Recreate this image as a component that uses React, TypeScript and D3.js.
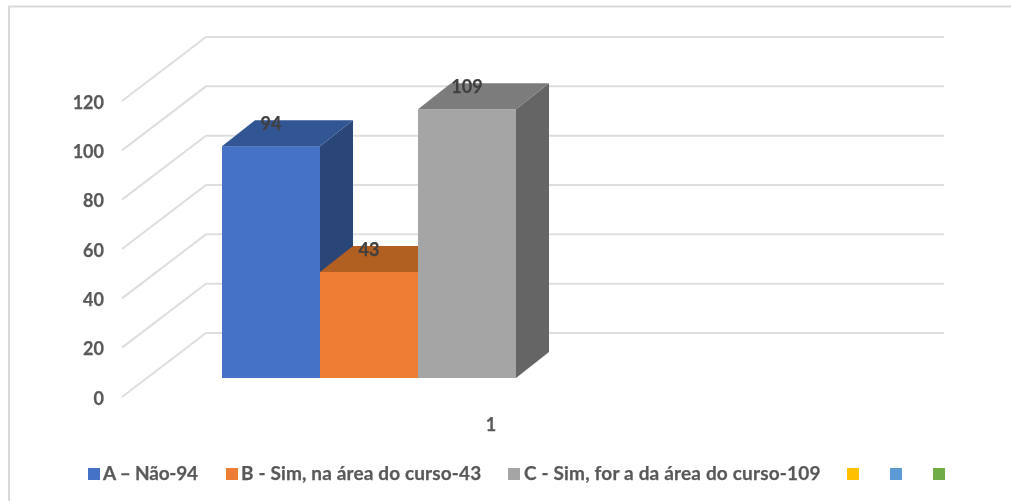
import React from "react";
import * as d3 from "d3";

const yTicks = [0, 20, 40, 60, 80, 100, 120];
const categoryLabel = "1";
const seriesNames = ["A – Não-94", "B - Sim, na área do curso-43", "C - Sim, for a da área do curso-109"];
const seriesValues = [94, 43, 109];
const seriesFront = ["#4472C4", "#ED7D31", "#A5A5A5"];
const seriesTop = ["#335593", "#B25E24", "#7C7C7C"];
const seriesSide = ["#294578", "#914C1D", "#656565"];
const emptyLegendColors = ["#FFC000", "#5B9BD5", "#70AD47"];
const legendX = [88, 226, 508];
const legendTextX = [103, 241, 524];
const legendSpacing = [-0.2, 0.14, 0.17];
const emptyLegendX = [847, 890, 933];

const FONT = "Lato, 'Open Sans', sans-serif";
const W = 1011, H = 501;
const wallDx = 84, wallDy = -64;
const depthDx = 33, depthDy = -26;

export default function App() {
  const yFront = d3.scaleLinear().domain([0, 120]).range([397, 101]);
  const yBar = d3.scaleLinear().domain([0, 120]).range([378, 82]);
  const x = d3.scaleBand<number>().domain([0, 1, 2]).range([222, 516]).padding(0);
  const frontX = 122, gridEnd = 944;
  const pts = (p: number[][]) => p.map((q) => q.join(",")).join(" ");

  return (
    <svg
      width={W}
      height={H}
      viewBox={`0 0 ${W} ${H}`}
      style={{ position: "absolute", left: 0, top: 0, display: "block", background: "#fff" }}
    >
      <defs>
        <filter id="soft" x="-5%" y="-5%" width="110%" height="110%">
          <feGaussianBlur stdDeviation="0.45" />
        </filter>
      </defs>
      <g filter="url(#soft)">
        <path d={`M9,${H} V6.5 H${W}`} fill="none" stroke="#D9D9D9" strokeWidth={2} />
        {yTicks.map((t) => {
          const y0 = yFront(t);
          return (
            <g key={t}>
              <polyline
                points={pts([[frontX, y0], [frontX + wallDx, y0 + wallDy], [gridEnd, y0 + wallDy]])}
                fill="none"
                stroke="#DEDEDE"
                strokeWidth={2}
              />
              <text x={104} y={y0 + 7.5} textAnchor="end" fontFamily={FONT} fontWeight={700} fontSize={18} fill="#595959" stroke="#595959" strokeWidth={0.25}>
                {t}
              </text>
            </g>
          );
        })}
        {seriesValues.map((v, i) => {
          const x0 = x(i)!;
          const bw = x.bandwidth();
          const x1 = x0 + bw;
          const top = yBar(v);
          const base = yBar(0);
          return (
            <g key={i}>
              <polygon
                points={pts([[x1, top], [x1 + depthDx, top + depthDy], [x1 + depthDx, base + depthDy], [x1, base]])}
                fill={seriesSide[i]}
              />
              <polygon
                points={pts([[x0, top], [x0 + depthDx, top + depthDy], [x1 + depthDx, top + depthDy], [x1, top]])}
                fill={seriesTop[i]}
              />
              <rect x={x0} y={top} width={bw} height={base - top} fill={seriesFront[i]} />
            </g>
          );
        })}
        {seriesValues.map((v, i) => (
          <text
            key={i}
            x={x(i)! + x.bandwidth() / 2}
            y={yBar(v) + depthDy + 10}
            textAnchor="middle"
            fontFamily={FONT}
            fontWeight={700}
            fontSize={18}
            fill="#404040"
            stroke="#404040"
            strokeWidth={0.25}
          >
            {v}
          </text>
        ))}
        <text x={491} y={431} textAnchor="middle" fontFamily={FONT} fontWeight={700} fontSize={18} fill="#595959" stroke="#595959" strokeWidth={0.25}>
          {categoryLabel}
        </text>
        {seriesNames.map((n, i) => (
          <g key={n}>
            <rect x={legendX[i]} y={468} width={12} height={12} fill={seriesFront[i]} />
            <text x={legendTextX[i]} y={480} fontFamily={FONT} fontWeight={700} fontSize={19} letterSpacing={legendSpacing[i]} fill="#595959" stroke="#595959" strokeWidth={0.25}>
              {n}
            </text>
          </g>
        ))}
        {emptyLegendColors.map((c, i) => (
          <rect key={c} x={emptyLegendX[i]} y={468} width={12} height={12} fill={c} />
        ))}
      </g>
    </svg>
  );
}
